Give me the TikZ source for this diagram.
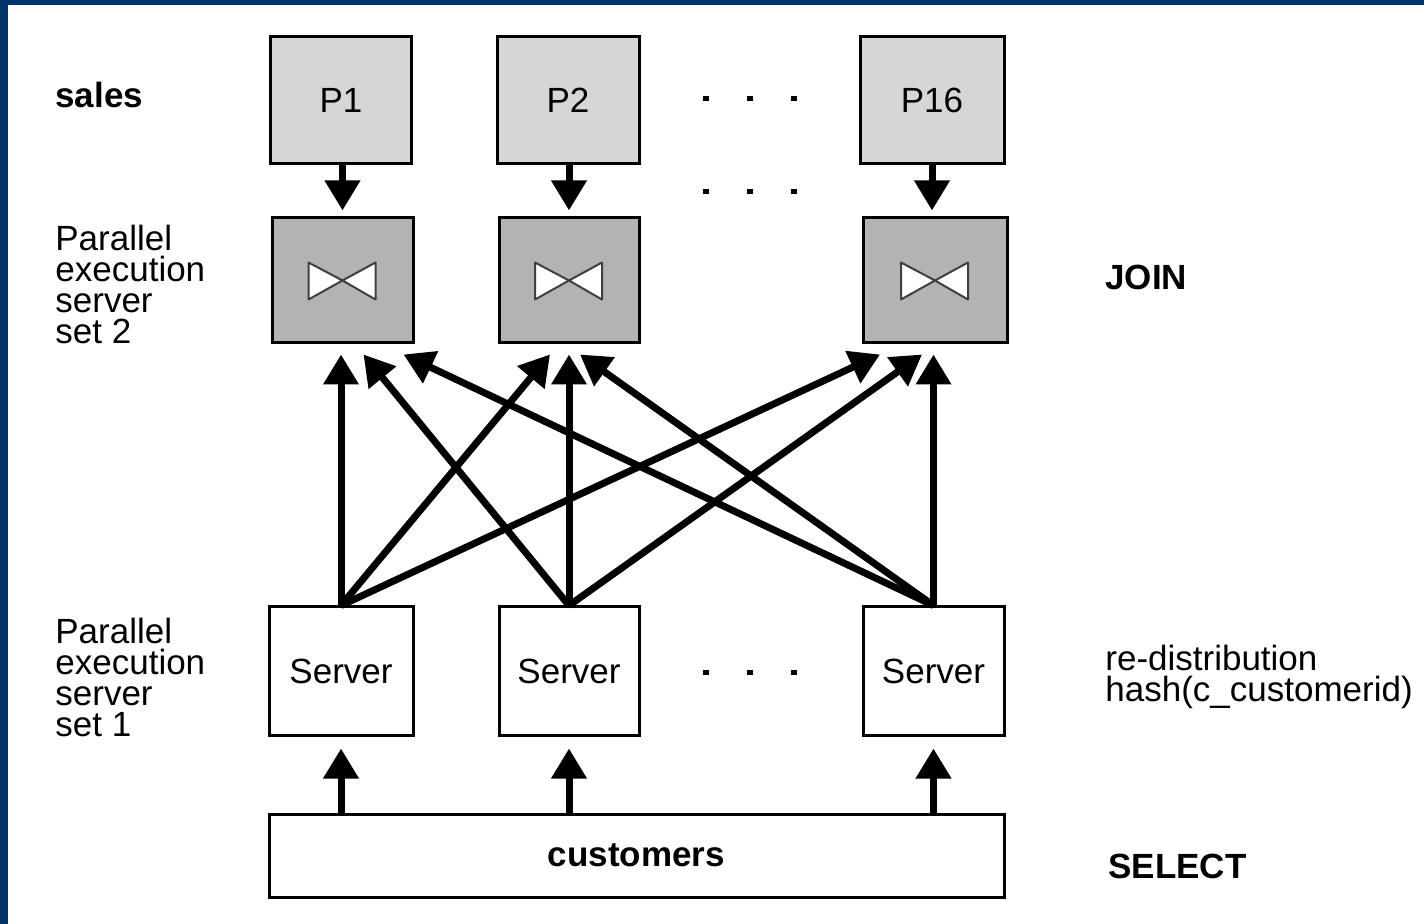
\documentclass[tikz,border=0pt]{standalone}
\usepackage{fontspec}
\setmainfont{Liberation Sans}
\usetikzlibrary{arrows.meta,calc}
\definecolor{frameblue}{RGB}{0,51,102}
\definecolor{salesgray}{RGB}{214,214,214}
\definecolor{joingray}{RGB}{179,179,179}
\tikzset{
  bowtie/.pic={
    \filldraw[fill=white, draw=black!75, line width=1pt, line join=round]
      (-34,-18) -- (-34,19) -- (0,0) -- cycle
      (33,-18) -- (33,19) -- (0,0) -- cycle;
  }
}
\begin{document}
\begin{tikzpicture}[x=0.5pt,y=-0.5pt,
  every node/.style={font=\fontsize{17.5pt}{15.5pt}\selectfont, inner sep=0pt, text=black},
  basebox/.style={draw=black, line width=1.5pt},
  pbox/.style={basebox, fill=salesgray, minimum height=63.5pt},
  jbox/.style={basebox, fill=joingray, minimum height=62.5pt},
  sbox/.style={basebox, fill=white, minimum height=64pt},
  cbox/.style={basebox, fill=white, minimum width=367.5pt, minimum height=41.5pt},
  sidetext/.style={align=left},
  flow/.style={line width=3.5pt, -{Triangle[width=17pt,length=15pt]}},
  dot/.style={fill=black}
]
% page and frame
\useasboundingbox (0,0) rectangle (1424,924);
\fill[white] (0,0) rectangle (1424,924);
\fill[frameblue] (0,0) rectangle (8,924);
\fill[frameblue] (0,0) rectangle (1424,5);

% sales partitions
\node[pbox, minimum width=70.5pt] (P1)  at (341,100.5) {P1};
\node[pbox, minimum width=71pt]   (P2)  at (568,100.5) {P2};
\node[pbox, minimum width=72pt]   (P16) at (932,100.5) {P16};

% join servers (set 2)
\node[jbox, minimum width=70.5pt] (J1)  at (342.5,280.5) {};
\node[jbox, minimum width=70pt]   (J2)  at (569,280.5) {};
\node[jbox, minimum width=72pt]   (J16) at (935,280.5) {};
\pic at (J1.center) {bowtie};
\pic at (J2.center) {bowtie};
\pic at (J16.center) {bowtie};

% scan servers (set 1)
\node[sbox, minimum width=72pt]   (S1)  at (341,671) {Server};
\node[sbox, minimum width=70pt]   (S2)  at (569,671) {Server};
\node[sbox, minimum width=70.5pt] (S16) at (933.5,671) {Server};

% customers table
\node[cbox] (C) at (636.5,855.5) {\bfseries customers};

% ellipses between columns
\foreach \yy in {99,192,672}{
  \foreach \xx in {706,750,794}{
    \fill[dot] (\xx-3,\yy-2.5) rectangle (\xx+3,\yy+2.5);
  }
}

% sales rows into the joins
\draw[flow] (P1.south -| J1.north)  -- ($(J1.north)+(0,-6)$);
\draw[flow] (P2.south -| J2.north)  -- ($(J2.north)+(0,-6)$);
\draw[flow] (P16.south) -- ($(P16.south |- J16.north)+(0,-6)$);

% customers rows into the scan servers
\draw[flow] (S1.south |- C.north)  -- ($(S1.south)+(0,12)$);
\draw[flow] (S2.south |- C.north)  -- ($(S2.south)+(0,12)$);
\draw[flow] (S16.south |- C.north) -- ($(S16.south)+(0,12)$);

% hash re-distribution from set 1 to set 2
\draw[flow] (S1.north) -- ($(S1.north |- J1.south)+(0,10)$);
\draw[flow] (S1.north) -- ($(J2.south)+(-19,10)$);
\draw[flow] (S1.north) -- ($(J16.south)+(-55,10)$);
\draw[flow] (S2.north) -- ($(J1.south)+(21,10)$);
\draw[flow] (S2.north) -- ($(S2.north |- J2.south)+(0,10)$);
\draw[flow] (S2.north) -- ($(J16.south)+(-13,10)$);
\draw[flow] (S16.north) -- ($(J1.south)+(61,10)$);
\draw[flow] (S16.north) -- ($(J2.south)+(11,10)$);
\draw[flow] (S16.north) -- ($(S16.north |- J16.south)+(0,10)$);

% side labels
\node[anchor=base west] (lsales) at (55,108) {\bfseries sales};
\node[sidetext, anchor=north west] (lset2) at (55,225) {Parallel\\execution\\server\\set 2};
\node[sidetext, anchor=north west] (lset1) at (55,618) {Parallel\\execution\\server\\set 1};
\node[anchor=base west] (ljoin) at (1105,290) {\bfseries JOIN};
\node[sidetext, anchor=north west] (lredist) at (1105,645) {re-distribution\\hash(c\_customerid)};
\node[anchor=base west] (lselect) at (1108,878) {\bfseries SELECT};
\end{tikzpicture}
\end{document}
